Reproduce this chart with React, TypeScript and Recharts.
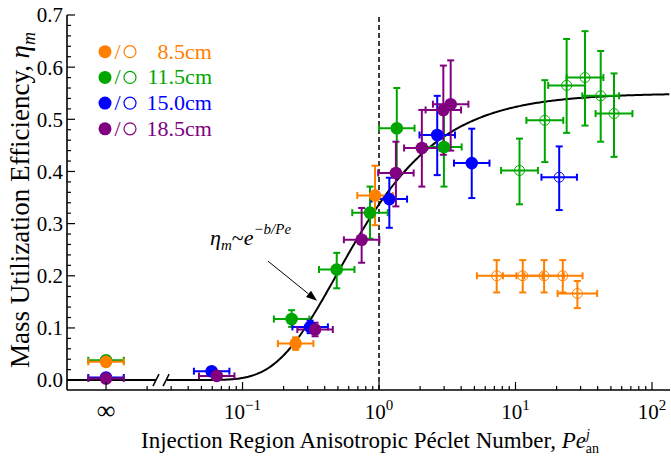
import React from "react";
import {
  ComposedChart,
  Scatter,
  Line,
  XAxis,
  YAxis,
  ErrorBar,
  ReferenceLine,
} from "recharts";

// x axis is log10(Pe); the Pe = ∞ column is parked at 10^-2
const INF_POS = -2;
const X_MIN = -2.286;
const X_MAX = 2.132;
const Y_MIN = -0.019;
const Y_MAX = 0.7;

const FIT_A = 0.55;
const FIT_B = 0.49;

// pe, eta, lower / upper eta error
const orangeFilled = [
  { pe: Infinity, eta: 0.035, lo: 0.006, hi: 0.006 },
  { pe: 0.245, eta: 0.07, lo: 0.012, hi: 0.012 },
  { pe: 0.935, eta: 0.354, lo: 0.057, hi: 0.057 },
];
const greenFilled = [
  { pe: Infinity, eta: 0.038, lo: 0.006, hi: 0.006 },
  { pe: 0.229, eta: 0.117, lo: 0.015, hi: 0.017 },
  { pe: 0.49, eta: 0.212, lo: 0.036, hi: 0.032 },
  { pe: 0.859, eta: 0.321, lo: 0.05, hi: 0.05 },
  { pe: 1.35, eta: 0.483, lo: 0.08, hi: 0.077 },
  { pe: 2.99, eta: 0.447, lo: 0.076, hi: 0.076 },
];
const blueFilled = [
  { pe: Infinity, eta: 0.005, lo: 0.005, hi: 0.005 },
  { pe: 0.0594, eta: 0.017, lo: 0.006, hi: 0.006 },
  { pe: 0.313, eta: 0.102, lo: 0.012, hi: 0.012 },
  { pe: 1.19, eta: 0.347, lo: 0.055, hi: 0.041 },
  { pe: 2.67, eta: 0.47, lo: 0.077, hi: 0.075 },
  { pe: 4.78, eta: 0.416, lo: 0.067, hi: 0.066 },
];
const purpleFilled = [
  { pe: Infinity, eta: 0.003, lo: 0.004, hi: 0.004 },
  { pe: 0.0647, eta: 0.008, lo: 0.005, hi: 0.005 },
  { pe: 0.34, eta: 0.097, lo: 0.013, hi: 0.013 },
  { pe: 0.746, eta: 0.269, lo: 0.044, hi: 0.061 },
  { pe: 1.33, eta: 0.397, lo: 0.064, hi: 0.06 },
  { pe: 2.06, eta: 0.445, lo: 0.074, hi: 0.073 },
  { pe: 2.96, eta: 0.518, lo: 0.086, hi: 0.085 },
  { pe: 3.35, eta: 0.529, lo: 0.089, hi: 0.084 },
];
const greenOpen = [
  { pe: 10.7, eta: 0.402, lo: 0.065, hi: 0.061 },
  { pe: 16.4, eta: 0.498, lo: 0.08, hi: 0.077 },
  { pe: 23.7, eta: 0.565, lo: 0.091, hi: 0.089 },
  { pe: 32.3, eta: 0.58, lo: 0.092, hi: 0.089 },
  { pe: 42.1, eta: 0.545, lo: 0.088, hi: 0.086 },
  { pe: 52.7, eta: 0.511, lo: 0.083, hi: 0.077 },
];
const blueOpen = [{ pe: 20.9, eta: 0.389, lo: 0.063, hi: 0.059 }];
const orangeOpen = [
  { pe: 7.28, eta: 0.2, lo: 0.032, hi: 0.03 },
  { pe: 11.3, eta: 0.2, lo: 0.032, hi: 0.03 },
  { pe: 16.2, eta: 0.2, lo: 0.032, hi: 0.03 },
  { pe: 22.2, eta: 0.2, lo: 0.032, hi: 0.03 },
  { pe: 28.4, eta: 0.166, lo: 0.028, hi: 0.024 },
];

const ORANGE = "#ff8000";
const GREEN = "#00a600";
const BLUE = "#0000ff";
const PURPLE = "#800080";

const LEGEND = [
  { label: "8.5cm", color: ORANGE },
  { label: "11.5cm", color: GREEN },
  { label: "15.0cm", color: BLUE },
  { label: "18.5cm", color: PURPLE },
];

// draw order matters: later series sit on top
const SERIES = [
  { name: "g-open", pts: greenOpen, color: GREEN, open: true, dx: 0.135 },
  { name: "b-open", pts: blueOpen, color: BLUE, open: true, dx: 0.13 },
  { name: "o-open", pts: orangeOpen, color: ORANGE, open: true, dx: 0.145 },
  { name: "g-fill", pts: greenFilled, color: GREEN, open: false, dx: 0.13 },
  { name: "b-fill", pts: blueFilled, color: BLUE, open: false, dx: 0.13 },
  { name: "o-fill", pts: orangeFilled, color: ORANGE, open: false, dx: 0.13 },
  { name: "p-fill", pts: purpleFilled, color: PURPLE, open: false, dx: 0.13 },
];

const toX = (pe: number) => (Number.isFinite(pe) ? Math.log10(pe) : INF_POS);

const X_MAJOR = [INF_POS, -1, 0, 1, 2];
const X_TICKS: number[] = [...X_MAJOR];
for (const d of [-2, -1, 0, 1]) {
  for (let k = 2; k <= 9; k++) {
    const t = d + Math.log10(k);
    if (t < X_MAX) X_TICKS.push(t);
  }
}
const Y_TICKS: number[] = [];
for (let i = 0; i <= 35; i++) Y_TICKS.push(i * 0.02);
const Y_RIGHT_TICKS = [0.02, 0.12, 0.22, 0.32, 0.42, 0.52, 0.62];

const isMajorY = (v: number) => Math.abs(v * 10 - Math.round(v * 10)) < 1e-6;

// fitted curve eta = A exp(-b / Pe)
const curve: { x: number; y: number }[] = [];
for (let t = -1.553; t <= X_MAX + 0.001; t += 0.01) {
  curve.push({ x: t, y: FIT_A * Math.exp(-FIT_B / Math.pow(10, t)) });
}
const zeroRun = [
  { x: X_MIN, y: 0 },
  { x: -1.634, y: 0 },
];

const FONT = "'Liberation Serif', 'Times New Roman', serif";

const BottomTick = ({ x, y, payload }: any) => {
  const v = payload.value;
  const major = X_MAJOR.includes(v);
  return (
    <g>
      <line x1={x} x2={x} y1={y} y2={y - (major ? 8 : 4)} stroke="#000" strokeWidth={1.2} />
      {major &&
        (v === INF_POS ? (
          <text x={x} y={y + 29} textAnchor="middle" fontSize={26} fontFamily={FONT}>
            ∞
          </text>
        ) : (
          <text x={x} y={y + 29} textAnchor="middle" fontSize={21} fontFamily={FONT}>
            10
            <tspan dy={-9} fontSize={15}>
              {v < 0 ? "−" + Math.abs(v) : v}
            </tspan>
          </text>
        ))}
    </g>
  );
};

const TopTick = ({ x, y, payload }: any) => {
  const major = X_MAJOR.includes(payload.value);
  return <line x1={x} x2={x} y1={y} y2={y + (major ? 8 : 4)} stroke="#000" strokeWidth={1.2} />;
};

const LeftTick = ({ x, y, payload }: any) => {
  const v = payload.value;
  const major = isMajorY(v);
  return (
    <g>
      <line x1={x} x2={x + (major ? 8 : 4)} y1={y} y2={y} stroke="#000" strokeWidth={1.2} />
      {major && (
        <text x={x - 4} y={y} dy="0.35em" textAnchor="end" fontSize={21} fontFamily={FONT}>
          {v.toFixed(1)}
        </text>
      )}
    </g>
  );
};

const RightTick = ({ x, y }: any) => (
  <line x1={x} x2={x - 5} y1={y} y2={y} stroke="#000" strokeWidth={1.2} />
);

const Arrow = (p: any) => {
  const { x1, y1, x2, y2 } = p;
  const len = Math.hypot(x2 - x1, y2 - y1);
  const ux = (x2 - x1) / len;
  const uy = (y2 - y1) / len;
  const hx = x2 - ux * 11;
  const hy = y2 - uy * 11;
  return (
    <g>
      <line x1={x1} y1={y1} x2={hx} y2={hy} stroke="#000" strokeWidth={1} />
      <polygon
        points={`${x2},${y2} ${hx - uy * 4},${hy + ux * 4} ${hx + uy * 4},${hy - ux * 4}`}
        fill="#000"
      />
    </g>
  );
};

const frame = { stroke: "#000", strokeWidth: 1.6 };

export default function App() {
  return (
    <div style={{ position: "absolute", left: 0, top: 0, width: 671, height: 458, background: "#fff" }}>
      <ComposedChart
        width={671}
        height={458}
        margin={{ top: 15, right: 1, bottom: 0, left: 0 }}
        style={{ fontFamily: FONT }}
      >
        <XAxis
          dataKey="x"
          type="number"
          domain={[X_MIN, X_MAX]}
          allowDataOverflow
          ticks={X_TICKS}
          interval={0}
          tick={<BottomTick />}
          tickSize={0}
          tickMargin={0}
          tickLine={false}
          axisLine={frame}
          height={68}
        />
        <XAxis
          xAxisId="top"
          orientation="top"
          type="number"
          domain={[X_MIN, X_MAX]}
          allowDataOverflow
          ticks={X_TICKS}
          interval={0}
          tick={<TopTick />}
          tickSize={0}
          tickMargin={0}
          tickLine={false}
          axisLine={frame}
          height={0}
        />
        <YAxis
          dataKey="y"
          type="number"
          domain={[Y_MIN, Y_MAX]}
          allowDataOverflow
          ticks={Y_TICKS}
          interval={0}
          tick={<LeftTick />}
          tickSize={0}
          tickMargin={0}
          tickLine={false}
          axisLine={frame}
          width={67}
        />
        <YAxis
          yAxisId="right"
          orientation="right"
          type="number"
          domain={[Y_MIN, Y_MAX]}
          allowDataOverflow
          ticks={Y_RIGHT_TICKS}
          interval={0}
          tick={<RightTick />}
          tickSize={0}
          tickMargin={0}
          tickLine={false}
          axisLine={frame}
          width={0}
        />

        <ReferenceLine x={0} stroke="#000" strokeWidth={1.5} strokeDasharray="5 3" />

        <Line data={zeroRun} dataKey="y" dot={false} stroke="#000" strokeWidth={2} isAnimationActive={false} />
        <Line data={curve} dataKey="y" dot={false} stroke="#000" strokeWidth={2} isAnimationActive={false} />
        <ReferenceLine segment={[{ x: -1.656, y: -0.0115 }, { x: -1.612, y: 0.0115 }]} stroke="#000" strokeWidth={1.5} />
        <ReferenceLine segment={[{ x: -1.582, y: -0.0115 }, { x: -1.538, y: 0.0115 }]} stroke="#000" strokeWidth={1.5} />
        <ReferenceLine segment={[{ x: -0.813, y: 0.228 }, { x: -0.454, y: 0.152 }]} shape={Arrow} />

        {SERIES.map((s) => (
          <Scatter
            key={s.name}
            data={s.pts.map((p) => ({ x: toX(p.pe), y: p.eta, ex: [s.dx, s.dx], ey: [p.lo, p.hi] }))}
            dataKey="y"
            isAnimationActive={false}
            shape={(p: any) =>
              s.open ? (
                <circle cx={p.cx} cy={p.cy} r={5} fill="none" stroke={s.color} strokeWidth={1} />
              ) : (
                <circle cx={p.cx} cy={p.cy} r={6.3} fill={s.color} />
              )
            }
          >
            <ErrorBar dataKey="ex" direction="x" width={3.5} stroke={s.color} strokeWidth={2} />
            <ErrorBar dataKey="ey" direction="y" width={3.5} stroke={s.color} strokeWidth={2} />
          </Scatter>
        ))}
      </ComposedChart>

      <svg
        width={671}
        height={458}
        style={{ position: "absolute", left: 0, top: 0, pointerEvents: "none", fontFamily: FONT }}
      >
        {LEGEND.map((l, i) => {
          const cy = 51.7 + i * 25.7;
          return (
            <g key={l.label}>
              <circle cx={105} cy={cy} r={6.5} fill={l.color} />
              <text x={117.5} y={cy + 7} textAnchor="middle" fontSize={22} fill={l.color}>
                /
              </text>
              <circle cx={130} cy={cy} r={6} fill="none" stroke={l.color} strokeWidth={1.2} />
              <text x={212} y={cy + 7} textAnchor="end" fontSize={22} fill={l.color}>
                {l.label}
              </text>
            </g>
          );
        })}

        <text x={210} y={245} fontSize={22} fontStyle="italic">
          η
          <tspan dy={5} fontSize={15}>
            m
          </tspan>
          <tspan dy={-5} fontStyle="normal">~</tspan>
          <tspan>e</tspan>
          <tspan dy={-11} fontSize={15}>
            −b/Pe
          </tspan>
        </text>

        <text transform="translate(29,200) rotate(-90)" textAnchor="middle" fontSize={27}>
          Mass Utilization Efficiency,{" "}
          <tspan fontStyle="italic">η</tspan>
          <tspan dy={6} fontSize={18} fontStyle="italic">
            m
          </tspan>
        </text>

        <text x={370} y={448} textAnchor="middle" fontSize={23}>
          Injection Region Anisotropic Péclet Number,{" "}
          <tspan fontStyle="italic">Pe</tspan>
          <tspan dy={-9} fontSize={14} fontStyle="italic">
            j
          </tspan>
          <tspan dx={-4} dy={14} fontSize={14}>
            an
          </tspan>
        </text>
      </svg>
    </div>
  );
}
